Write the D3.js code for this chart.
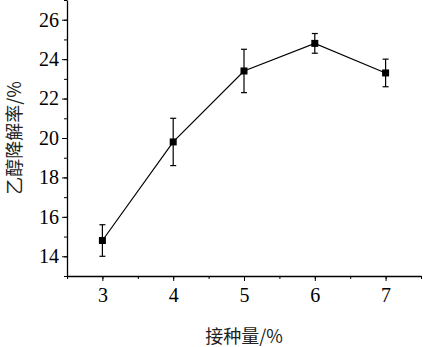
<!DOCTYPE html>
<html>
<head>
<meta charset="utf-8">
<script src="https://cdn.jsdelivr.net/npm/d3@7"></script>
<style>
  body { margin: 0; background: #fff; }
  svg { display: block; }
  .tick text { font-family: "Liberation Serif", "DejaVu Serif", serif; }
</style>
</head>
<body>
<div id="chart"></div>
<script>
// inoculum amount vs ethanol degradation rate

const dose = [3, 4, 5, 6, 7];
const rate = [14.8, 19.8, 23.4, 24.8, 23.3];
const errHi = [0.8, 1.2, 1.1, 0.5, 0.7];
const errLo = [0.8, 1.2, 1.1, 0.5, 0.7];
const yTicks = [14, 16, 18, 20, 22, 24, 26];
const xTicks = [3, 4, 5, 6, 7];

const width = 423, height = 347;

const svg = d3.select("#chart").append("svg")
    .attr("width", width)
    .attr("height", height);

const x = d3.scaleLinear().domain([2.5, 7.5]).range([67, 421]);
const y = d3.scaleLinear().domain([13, 27]).range([276, 0]);

// minor ticks first
svg.append("g")
    .attr("transform", "translate(67,0)")
    .call(d3.axisLeft(y).tickValues(d3.range(13, 27.01, 1)).tickSize(3).tickFormat(""))
    .call(g => g.select(".domain").remove());

svg.append("g")
    .attr("transform", "translate(0,276)")
    .call(d3.axisBottom(x).tickValues(d3.range(2.5, 7.51, 0.5)).tickSize(3).tickFormat(""))
    .call(g => g.select(".domain").remove());

// major axes
const yAxis = svg.append("g")
    .attr("transform", "translate(67,0)")
    .call(d3.axisLeft(y).tickValues(yTicks).tickSize(5).tickPadding(3).tickSizeOuter(0));
yAxis.selectAll("text").style("font-size", "20px").attr("fill", "#000");
yAxis.select(".domain").attr("stroke-width", 1.3);

const xAxis = svg.append("g")
    .attr("transform", "translate(0,276)")
    .call(d3.axisBottom(x).tickValues(xTicks).tickFormat(d3.format("d"))
        .tickSize(5).tickPadding(7).tickSizeOuter(0));
xAxis.selectAll("text").style("font-size", "20px").attr("fill", "#000");
xAxis.select(".domain").attr("stroke-width", 1.3);

// axis titles
svg.append("text")
    .attr("transform", `translate(21,${y(20)}) rotate(-90)`)
    .attr("text-anchor", "middle")
    .style("font-family", "'Noto Sans CJK SC', sans-serif")
    .style("font-size", "18px")
    .attr("fill", "#222")
    .text("乙醇降解率/%");

svg.append("text")
    .attr("x", x(5))
    .attr("y", 343)
    .attr("text-anchor", "middle")
    .style("font-family", "'Noto Sans CJK SC', sans-serif")
    .style("font-size", "18px")
    .attr("fill", "#222")
    .text("接种量/%");

const pts = dose.map((d, i) => ({ d, v: rate[i], hi: rate[i] + errHi[i], lo: rate[i] - errLo[i] }));

// connecting line
svg.append("path")
    .datum(pts)
    .attr("fill", "none")
    .attr("stroke", "#000")
    .attr("stroke-width", 1.2)
    .attr("d", d3.line().x(p => x(p.d)).y(p => y(p.v)));

// error bars
const eb = svg.append("g").attr("stroke", "#000").attr("stroke-width", 1.2);
pts.forEach(p => {
    eb.append("line").attr("x1", x(p.d)).attr("x2", x(p.d)).attr("y1", y(p.lo)).attr("y2", y(p.hi));
    eb.append("line").attr("x1", x(p.d) - 3).attr("x2", x(p.d) + 3).attr("y1", y(p.lo)).attr("y2", y(p.lo));
    eb.append("line").attr("x1", x(p.d) - 3).attr("x2", x(p.d) + 3).attr("y1", y(p.hi)).attr("y2", y(p.hi));
});

// markers
svg.append("g").selectAll("rect")
    .data(pts)
    .join("rect")
    .attr("x", p => x(p.d) - 3.5)
    .attr("y", p => y(p.v) - 3.5)
    .attr("width", 7)
    .attr("height", 7)
    .attr("fill", "#000");
</script>
</body>
</html>
